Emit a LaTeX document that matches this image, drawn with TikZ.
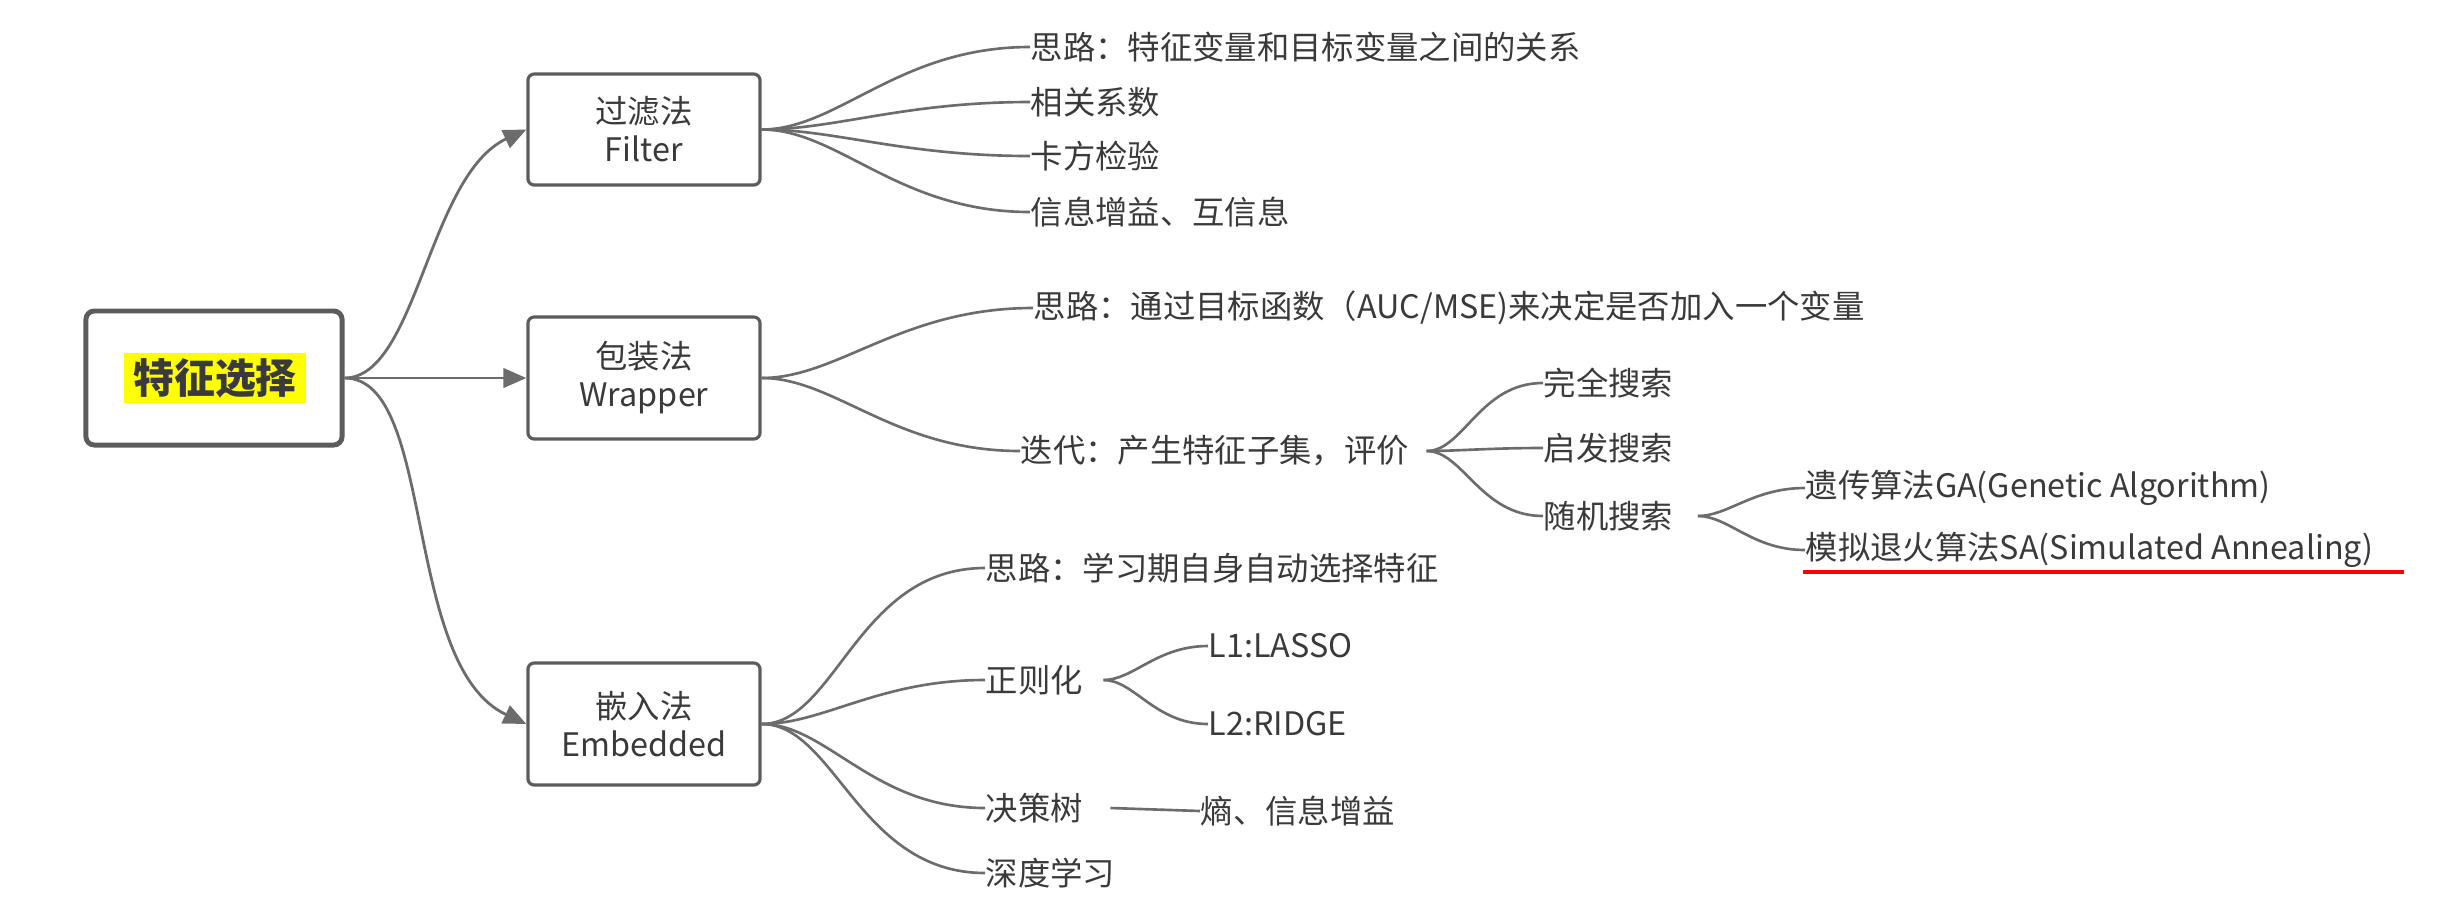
\documentclass[tikz,border=0pt]{standalone}
\usepackage{fontspec}
\setmainfont{Noto Sans CJK SC}
\usetikzlibrary{arrows.meta}
\definecolor{ink}{HTML}{3A3A3A}
\definecolor{wire}{HTML}{6C6C6C}
\definecolor{frame}{HTML}{5C5C5C}
\definecolor{hilite}{HTML}{FFFF00}
\definecolor{uline}{HTML}{FF0000}
\begin{document}
\begin{tikzpicture}[x=0.01cm,y=-0.01cm,
  every node/.style={font=\fontsize{9.2}{10.8}\selectfont, text=ink},
  leaf/.style={anchor=west, inner sep=0pt},
  rootbox/.style={draw=frame, line width=1.4pt, rounded corners=2.4pt,
    minimum width=2.56cm, minimum height=1.34cm},
  roottag/.style={fill=hilite, inner xsep=0.09cm, inner ysep=0.05cm,
    font=\fontsize{11.6}{13}\selectfont\bfseries},
  method/.style={draw=frame, line width=0.9pt, rounded corners=1.8pt,
    minimum width=2.32cm, align=center, fill=white},
  arrowline/.style={draw=wire, line width=0.8pt, -{Triangle[length=6.5pt,width=5.5pt]}},
  wire/.style={draw=wire, line width=0.75pt},
  fan/.style={wire, out=0, in=180, out looseness=0.7, in looseness=1.2},
  underline/.style={draw=uline, line width=1.4pt}
]
\useasboundingbox (0,0) rectangle (2459,908);

% root and the three method boxes
\node[rootbox] (root) at (214,378) {};
\node[roottag] (roottext) at (215,378) {特征选择};

\node[method, minimum height=1.11cm] (filter) at (644,129.5) {过滤法\\Filter};
\node[method, minimum height=1.22cm] (wrapper) at (644,378) {包装法\\Wrapper};
\node[method, minimum height=1.22cm] (embedded) at (644,724) {嵌入法\\Embedded};

\draw[arrowline] (root.east) to[out=0, in=205, out looseness=0.6, in looseness=0.9] (filter.west);
\draw[arrowline] (root.east) -- (wrapper.west);
\draw[arrowline] (root.east) to[out=0, in=155, out looseness=0.6, in looseness=0.9] (embedded.west);

% filter branch
\node[leaf] (f1) at (1030,47) {思路：特征变量和目标变量之间的关系};
\node[leaf] (f2) at (1030,102) {相关系数};
\node[leaf] (f3) at (1030,156) {卡方检验};
\node[leaf] (f4) at (1030,212) {信息增益、互信息};
\foreach \n in {f1,f2,f3,f4}
  \draw[fan] (filter.east) to (\n.west);

% wrapper branch
\node[leaf] (w1) at (1033,308) {思路：通过目标函数（AUC/MSE)来决定是否加入一个变量};
\node[leaf] (w2) at (1020,451) {迭代：产生特征子集，评价};
\foreach \n in {w1,w2}
  \draw[fan] (wrapper.east) to (\n.west);

\node[leaf] (s1) at (1543,383) {完全搜索};
\node[leaf] (s2) at (1543,448) {启发搜索};
\node[leaf] (s3) at (1543,516) {随机搜索};
\foreach \n in {s1,s2,s3}
  \draw[fan] ([xshift=0.17cm]w2.east) to (\n.west);

\node[leaf] (r1) at (1805,488) {遗传算法GA(Genetic Algorithm)};
\node[leaf] (r2) at (1805,550) {模拟退火算法SA(Simulated Annealing)};
\foreach \n in {r1,r2}
  \draw[fan] ([xshift=0.24cm]s3.east) to (\n.west);
\draw[underline] ([xshift=-0.02cm,yshift=-0.22cm]r2.west) -- ([xshift=0.3cm,yshift=-0.22cm]r2.east);

% embedded branch
\node[leaf] (e1) at (985,568) {思路：学习期自身自动选择特征};
\node[leaf] (e2) at (985,680) {正则化};
\node[leaf] (e3) at (985,808) {决策树};
\node[leaf] (e4) at (985,873) {深度学习};
\foreach \n in {e1,e2,e3,e4}
  \draw[fan] (embedded.east) to (\n.west);

\node[leaf] (l1) at (1208,646) {L1:LASSO};
\node[leaf] (l2) at (1208,724) {L2:RIDGE};
\foreach \n in {l1,l2}
  \draw[fan] ([xshift=0.2cm]e2.east) to (\n.west);

\node[leaf] (t1) at (1200,811) {熵、信息增益};
\draw[wire] ([xshift=0.27cm]e3.east) -- (t1.west);
\end{tikzpicture}
\end{document}
